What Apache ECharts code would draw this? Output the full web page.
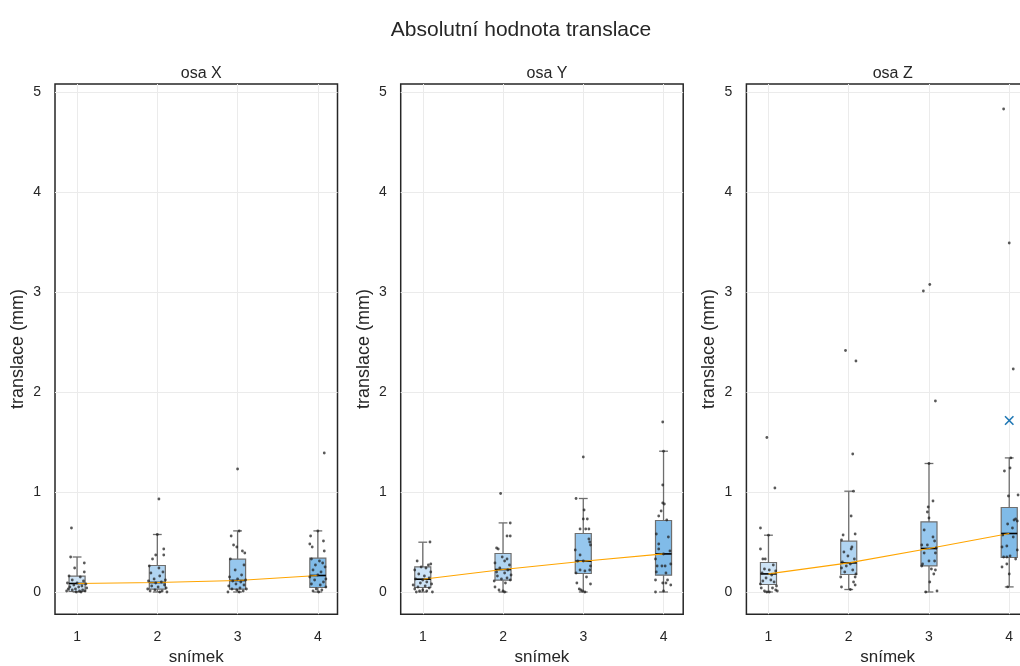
<!DOCTYPE html>
<html>
<head>
<meta charset="utf-8">
<script src="https://cdn.jsdelivr.net/npm/echarts@6/dist/echarts.min.js"></script>
<style>
  html, body { margin: 0; padding: 0; background: #fff; }
  #chart { width: 1020px; height: 666px; }
</style>
</head>
<body>
<div id="chart"></div>
<script>
// ---------------- DATA ----------------
const mainTitle = 'Absolutní hodnota translace';
const panelTitles = ['osa X', 'osa Y', 'osa Z'];
const snimky = [1, 2, 3, 4];
const xTicks = [1, 2, 3, 4];
const yTicks = [0, 1, 2, 3, 4, 5];

// box statistics per snímek: [lower whisker, Q1, median, Q3, upper whisker]
const boxX = [
  [0.00, 0.005, 0.085, 0.158, 0.35],
  [0.00, 0.028, 0.095, 0.265, 0.575],
  [0.00, 0.028, 0.115, 0.328, 0.611],
  [0.00, 0.045, 0.165, 0.338, 0.611]
];
const boxY = [
  [0.00, 0.045, 0.128, 0.251, 0.498],
  [0.00, 0.118, 0.225, 0.385, 0.691],
  [0.00, 0.185, 0.308, 0.585, 0.935],
  [0.00, 0.168, 0.381, 0.715, 1.408]
];
const boxZ = [
  [0.00, 0.075, 0.181, 0.295, 0.568],
  [0.025, 0.175, 0.291, 0.508, 1.008],
  [0.00, 0.261, 0.435, 0.701, 1.285],
  [0.051, 0.345, 0.585, 0.845, 1.341]
];

// individual measurements: [jitter around snímek, value]
const pointsX = [
  [[-0.07,0.64],[-0.08,0.35],[0.09,0.29],[-0.03,0.24],[0.09,0.20],[-0.10,0.16],[0.04,0.15],[-0.06,0.12],[0.08,0.11],[-0.12,0.09],[0.0,0.09],[0.11,0.08],[-0.04,0.07],[0.06,0.06],[-0.09,0.05],[0.02,0.05],[0.12,0.04],[-0.11,0.03],[-0.02,0.03],[0.07,0.02],[-0.06,0.02],[0.10,0.01],[-0.13,0.01],[0.03,0.01],[-0.01,0.0],[0.05,0.0]],
  [[0.02,0.93],[0.0,0.575],[0.08,0.43],[0.08,0.37],[-0.02,0.37],[-0.06,0.33],[-0.10,0.26],[0.02,0.24],[0.07,0.20],[-0.08,0.19],[0.03,0.16],[-0.04,0.13],[0.10,0.12],[-0.11,0.11],[0.05,0.10],[-0.02,0.09],[0.09,0.07],[-0.07,0.06],[0.01,0.05],[0.11,0.04],[-0.12,0.03],[-0.03,0.02],[0.06,0.01],[-0.09,0.01],[0.03,0.0],[0.12,0.0]],
  [[0.0,1.23],[0.02,0.61],[-0.08,0.56],[-0.05,0.47],[-0.01,0.45],[0.06,0.41],[0.09,0.39],[-0.09,0.33],[0.08,0.27],[-0.03,0.22],[0.05,0.17],[-0.10,0.15],[0.0,0.13],[0.10,0.12],[-0.06,0.11],[0.04,0.10],[-0.02,0.08],[0.08,0.07],[-0.11,0.06],[0.03,0.04],[0.11,0.03],[-0.07,0.03],[-0.01,0.02],[0.07,0.01],[-0.12,0.0],[0.02,0.0]],
  [[0.08,1.39],[0.0,0.61],[-0.09,0.56],[0.07,0.51],[-0.10,0.48],[-0.07,0.45],[0.08,0.41],[-0.08,0.33],[0.02,0.31],[0.06,0.29],[-0.03,0.27],[0.09,0.25],[-0.06,0.22],[0.04,0.20],[0.0,0.17],[-0.10,0.15],[0.10,0.13],[-0.04,0.12],[0.07,0.10],[-0.08,0.08],[0.03,0.07],[0.10,0.05],[-0.02,0.03],[0.05,0.02],[-0.06,0.01],[0.01,0.0]]
];
const pointsY = [
  [[0.09,0.50],[-0.07,0.31],[0.10,0.28],[0.07,0.27],[-0.02,0.25],[0.04,0.24],[-0.10,0.22],[0.10,0.20],[-0.05,0.18],[0.02,0.16],[0.08,0.14],[-0.09,0.13],[0.0,0.12],[0.05,0.10],[-0.03,0.09],[0.11,0.08],[-0.12,0.07],[0.03,0.06],[-0.06,0.05],[0.08,0.04],[-0.10,0.03],[0.0,0.02],[0.05,0.01],[-0.04,0.01],[0.12,0.0],[-0.08,0.0]],
  [[-0.03,0.985],[0.09,0.69],[0.05,0.56],[0.09,0.56],[-0.08,0.44],[-0.06,0.43],[-0.01,0.35],[0.05,0.33],[0.02,0.31],[-0.10,0.29],[0.08,0.27],[-0.04,0.24],[0.06,0.22],[-0.08,0.20],[0.02,0.19],[0.10,0.17],[-0.07,0.16],[0.05,0.14],[-0.02,0.13],[0.09,0.12],[-0.11,0.11],[0.03,0.09],[-0.10,0.05],[-0.05,0.02],[0.0,0.01],[0.02,0.0]],
  [[0.0,1.35],[-0.09,0.935],[0.01,0.82],[0.0,0.73],[0.05,0.73],[-0.04,0.63],[0.03,0.63],[0.07,0.63],[0.07,0.53],[0.08,0.50],[0.09,0.47],[-0.10,0.42],[-0.04,0.37],[0.0,0.31],[-0.07,0.31],[0.09,0.26],[-0.04,0.22],[0.02,0.21],[0.08,0.22],[-0.09,0.19],[0.04,0.15],[-0.08,0.09],[0.09,0.08],[-0.05,0.03],[-0.03,0.02],[-0.01,0.01],[0.02,0.0]],
  [[-0.01,1.70],[0.0,1.408],[-0.01,1.07],[-0.01,0.89],[0.01,0.88],[-0.03,0.81],[-0.06,0.76],[0.04,0.72],[-0.09,0.58],[0.06,0.55],[-0.06,0.48],[-0.06,0.43],[0.08,0.41],[0.0,0.38],[-0.10,0.33],[-0.08,0.26],[-0.02,0.26],[0.02,0.26],[0.09,0.28],[-0.09,0.20],[0.03,0.19],[-0.10,0.12],[0.05,0.12],[-0.01,0.09],[0.03,0.09],[0.09,0.07],[-0.10,0.0],[0.0,0.01]]
];
const pointsZ = [
  [[-0.02,1.545],[0.08,1.04],[-0.10,0.64],[-0.10,0.43],[0.0,0.568],[-0.07,0.33],[-0.04,0.33],[0.06,0.27],[-0.05,0.23],[0.01,0.22],[0.09,0.21],[-0.08,0.19],[0.04,0.17],[-0.03,0.14],[0.03,0.12],[-0.07,0.11],[0.07,0.10],[-0.10,0.08],[0.10,0.06],[-0.09,0.04],[0.05,0.04],[0.09,0.02],[-0.05,0.01],[0.01,0.0],[0.11,0.01],[-0.02,0.0]],
  [[-0.04,2.415],[0.09,2.31],[0.05,1.38],[0.06,1.008],[0.03,0.76],[-0.07,0.57],[0.08,0.58],[-0.09,0.52],[0.04,0.45],[0.03,0.43],[-0.06,0.40],[-0.01,0.36],[0.07,0.33],[-0.08,0.30],[0.02,0.28],[-0.03,0.26],[-0.09,0.24],[0.05,0.22],[-0.05,0.20],[0.09,0.18],[-0.10,0.15],[0.08,0.15],[0.06,0.10],[0.08,0.07],[-0.09,0.05],[0.02,0.025]],
  [[-0.07,3.01],[0.01,3.075],[0.08,1.91],[0.0,1.285],[0.05,0.91],[-0.01,0.85],[-0.02,0.80],[0.0,0.74],[-0.06,0.62],[0.05,0.55],[0.07,0.51],[-0.09,0.47],[-0.02,0.47],[0.09,0.44],[-0.06,0.39],[0.08,0.39],[0.0,0.31],[0.07,0.31],[-0.08,0.28],[0.03,0.23],[0.08,0.22],[0.06,0.18],[0.01,0.10],[0.10,0.01],[-0.04,0.0],[-0.09,0.26]],
  [[-0.07,4.83],[0.0,3.49],[0.05,2.23],[0.02,1.341],[-0.06,1.21],[0.01,1.24],[0.11,0.97],[-0.01,0.96],[0.06,0.72],[0.08,0.73],[0.10,0.71],[-0.02,0.68],[0.04,0.64],[-0.08,0.57],[0.05,0.55],[-0.09,0.45],[-0.03,0.46],[0.10,0.42],[-0.07,0.35],[-0.03,0.35],[0.01,0.36],[0.08,0.33],[-0.09,0.25],[-0.03,0.28],[0.0,0.18],[-0.02,0.051]]
];
// extra marker (blue cross) in panel Z
const crossZ = [[4, 1.715]];

// ---------------- STYLE / LAYOUT ----------------
const FONT = 'Liberation Sans, Arial, Helvetica, sans-serif';
const TXT = '#262626';
const boxColors = ['#cde3f6', '#b0d4f1', '#96c7ee', '#80bbe8'];
const BOX_W = 0.2;
const panelLeft = [55, 400.7, 746.4];
const panelW = 282.5;
const panelTop = 84;
const panelH = 530.2;
const X_MIN = 0.725, X_MAX = 4.245;
const Y_MIN = -0.222, Y_MAX = 5.08;

const boxes = [boxX, boxY, boxZ];
const points = [pointsX, pointsY, pointsZ];

const chart = echarts.init(document.getElementById('chart'), null, { renderer: 'canvas' });

const grid = [], xAxis = [], yAxis = [], series = [];
const title = [{
  text: mainTitle, left: 516, top: 15, textAlign: 'center',
  textStyle: { fontFamily: FONT, fontSize: 21, fontWeight: 'normal', color: TXT }
}];

for (let i = 0; i < 3; i++) {
  grid.push({
    left: panelLeft[i], top: panelTop, width: panelW, height: panelH,
    outerBoundsMode: 'none', containLabel: false,
    show: true, borderColor: '#262626', borderWidth: 1.5, backgroundColor: '#fff'
  });
  title.push({
    text: panelTitles[i], left: panelLeft[i] + panelW / 2, top: 61, textAlign: 'center',
    textStyle: { fontFamily: FONT, fontSize: 16, fontWeight: 'normal', color: TXT }
  });
  xAxis.push({
    type: 'value', gridIndex: i, min: X_MIN, max: X_MAX,
    name: 'snímek', nameLocation: 'middle', nameGap: 35,
    nameTextStyle: { fontFamily: FONT, fontSize: 17, color: TXT },
    axisLine: { show: false },
    axisTick: { show: false, customValues: xTicks },
    axisLabel: { customValues: xTicks, margin: 16, fontFamily: FONT, fontSize: 14, color: TXT },
    splitLine: { show: true, lineStyle: { color: '#ebebeb', width: 1 } }
  });
  yAxis.push({
    type: 'value', gridIndex: i, min: Y_MIN, max: Y_MAX,
    name: 'translace (mm)', nameLocation: 'middle', nameGap: 28,
    nameTextStyle: { fontFamily: FONT, fontSize: 18, color: TXT },
    axisLine: { show: false },
    axisTick: { show: false, customValues: yTicks },
    axisLabel: { customValues: yTicks, margin: 14, fontFamily: FONT, fontSize: 14, color: TXT },
    splitLine: { show: true, lineStyle: { color: '#ebebeb', width: 1 } }
  });

  // boxes
  series.push({
    type: 'custom', xAxisIndex: i, yAxisIndex: i, z: 2,
    data: boxes[i].map((b, k) => [snimky[k], b[0], b[1], b[2], b[3], b[4], k]),
    encode: { x: 0, y: [1, 2, 3, 4, 5] },
    renderItem: function (params, api) {
      const x = api.value(0);
      const lo = api.coord([x, api.value(1)]);
      const q1 = api.coord([x, api.value(2)]);
      const md = api.coord([x, api.value(3)]);
      const q3 = api.coord([x, api.value(4)]);
      const hi = api.coord([x, api.value(5)]);
      const hw = api.size([BOX_W, 0])[0] / 2;
      const cw = hw * 0.55;
      const col = boxColors[api.value(6)];
      const wStyle = { stroke: '#6e6e6e', lineWidth: 1.3 };
      return {
        type: 'group',
        children: [
          { type: 'line', shape: { x1: lo[0], y1: lo[1], x2: q1[0], y2: q1[1] }, style: wStyle },
          { type: 'line', shape: { x1: q3[0], y1: q3[1], x2: hi[0], y2: hi[1] }, style: wStyle },
          { type: 'line', shape: { x1: lo[0] - cw, y1: lo[1], x2: lo[0] + cw, y2: lo[1] }, style: wStyle },
          { type: 'line', shape: { x1: hi[0] - cw, y1: hi[1], x2: hi[0] + cw, y2: hi[1] }, style: wStyle },
          { type: 'rect', shape: { x: q3[0] - hw, y: q3[1], width: 2 * hw, height: q1[1] - q3[1] },
            style: { fill: col, stroke: '#6e6e6e', lineWidth: 1.2 } },
          { type: 'line', shape: { x1: md[0] - hw, y1: md[1], x2: md[0] + hw, y2: md[1] },
            style: { stroke: '#000', lineWidth: 1.6 } }
        ]
      };
    }
  });

  // median trend line
  series.push({
    type: 'line', xAxisIndex: i, yAxisIndex: i, z: 3,
    data: boxes[i].map((b, k) => [snimky[k], b[2]]),
    symbol: 'none', silent: true,
    lineStyle: { color: '#ffa500', width: 1.1 }
  });

  // individual points
  const pts = [];
  points[i].forEach((grp, k) => grp.forEach(p => pts.push([snimky[k] + p[0], p[1]])));
  series.push({
    type: 'scatter', xAxisIndex: i, yAxisIndex: i, z: 4,
    data: pts, symbol: 'circle', symbolSize: 2.8, silent: true,
    itemStyle: { color: '#222', opacity: 0.75 }
  });
}

// blue cross marker in panel Z
series.push({
  type: 'custom', xAxisIndex: 2, yAxisIndex: 2, z: 5,
  data: crossZ,
  renderItem: function (params, api) {
    const p = api.coord([api.value(0), api.value(1)]);
    const r = 4.2;
    const st = { stroke: '#1f77b4', lineWidth: 1.6 };
    return {
      type: 'group',
      children: [
        { type: 'line', shape: { x1: p[0] - r, y1: p[1] - r, x2: p[0] + r, y2: p[1] + r }, style: st },
        { type: 'line', shape: { x1: p[0] - r, y1: p[1] + r, x2: p[0] + r, y2: p[1] - r }, style: st }
      ]
    };
  }
});

chart.setOption({
  animation: false,
  backgroundColor: '#fff',
  title: title,
  grid: grid,
  xAxis: xAxis,
  yAxis: yAxis,
  series: series
});
</script>
</body>
</html>
